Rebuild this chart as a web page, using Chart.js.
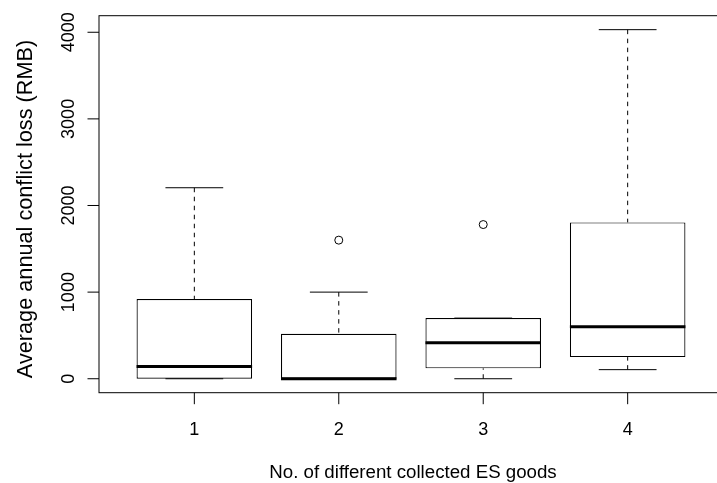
<!DOCTYPE html>
<html>
<head>
<meta charset="utf-8">
<title>Average annual conflict loss</title>
<script src="https://cdn.jsdelivr.net/npm/chart.js@4.4.1/dist/chart.umd.min.js"></script>
<style>
    html, body { margin: 0; padding: 0; background: #fff; overflow: hidden; }
    #lossChart { display: block; }
</style>
</head>
<body>
<canvas id="lossChart" width="728" height="483"></canvas>
<script>
//--- Data (RMB)
var groups = [1, 2, 3, 4];
var whiskerLow = [0, 0, 0, 105];
var quartile1 = [0, 0, 120, 250];
var medians = [140, 0, 415, 600];
var quartile3 = [920, 520, 700, 1805];
var whiskerHigh = [2205, 1000, 700, 4030];
var outlierGroup = [2, 3];
var outlierValue = [1600, 1780];
var yTicks = [0, 1000, 2000, 3000, 4000];
var xTickLabels = ['1', '2', '3', '4'];
var xTitle = 'No. of different collected ES goods';
var yTitle = 'Average annual conflict loss (RMB)';

var FONT = '"Liberation Sans", Arial, Helvetica, sans-serif';
var BOX_HALF = 0.4;    // boxwex 0.8
var CAP_HALF = 0.2;    // staple = half the box
var X_MIN = 0.34, X_MAX = 4.66;

//--- Build line data (null points break the segments)
function segments(list) {
    var out = [];
    list.forEach(function (s) {
        out.push({ x: s[0], y: s[1] });
        out.push({ x: s[2], y: s[3] });
        out.push({ x: s[2], y: null });
    });
    return out;
}

var medianSegs = [], whiskerSegs = [], capSegs = [];
groups.forEach(function (g, i) {
    medianSegs.push([g - BOX_HALF, medians[i], g + BOX_HALF, medians[i]]);
    // R draws whiskers from the staple towards the box
    whiskerSegs.push([g, whiskerHigh[i], g, quartile3[i]]);
    whiskerSegs.push([g, whiskerLow[i], g, quartile1[i]]);
    capSegs.push([g - CAP_HALF, whiskerHigh[i], g + CAP_HALF, whiskerHigh[i]]);
    capSegs.push([g - CAP_HALF, whiskerLow[i], g + CAP_HALF, whiskerLow[i]]);
});

var yMax = Math.max.apply(null, whiskerHigh);
var yPad = (yMax - 0) * 0.04;

//--- Frame, ticks and titles in the base-graphics look
var baseAxes = {
    id: 'baseAxes',
    afterDraw: function (chart) {
        var ctx = chart.ctx, a = chart.chartArea;
        var xs = chart.scales.x, ys = chart.scales.y;
        var tick = 11.5;
        ctx.save();
        ctx.strokeStyle = '#000';
        ctx.lineWidth = 1;
        ctx.strokeRect(a.left, a.top, a.right - a.left, a.bottom - a.top);

        // y axis
        ctx.beginPath();
        yTicks.forEach(function (v) {
            var y = ys.getPixelForValue(v);
            ctx.moveTo(a.left - tick, y);
            ctx.lineTo(a.left, y);
        });
        ctx.stroke();
        ctx.fillStyle = '#000';
        ctx.font = '18px ' + FONT;
        ctx.textAlign = 'center';
        ctx.textBaseline = 'alphabetic';
        yTicks.forEach(function (v) {
            var y = ys.getPixelForValue(v);
            ctx.save();
            ctx.translate(74, y);
            ctx.rotate(-Math.PI / 2);
            ctx.fillText(String(v), 0, 0);
            ctx.restore();
        });

        // x axis
        ctx.beginPath();
        groups.forEach(function (g) {
            var x = xs.getPixelForValue(g);
            ctx.moveTo(x, a.bottom);
            ctx.lineTo(x, a.bottom + tick);
        });
        ctx.stroke();
        groups.forEach(function (g, i) {
            ctx.fillText(xTickLabels[i], xs.getPixelForValue(g), 434.5);
        });

        // titles
        ctx.font = '18.7px ' + FONT;
        ctx.fillText(xTitle, (a.left + a.right) / 2 + 2, 478);
        ctx.save();
        ctx.font = '21.7px ' + FONT;
        ctx.translate(31.5, 209);
        ctx.rotate(-Math.PI / 2);
        ctx.fillText(yTitle, 0, 0);
        ctx.restore();
        ctx.restore();
    }
};

var ctx = document.getElementById('lossChart');
new Chart(ctx, {
    data: {
        datasets: [
            {
                type: 'bar',
                label: 'box',
                xAxisID: 'xb',
                grouped: false,
                data: groups.map(function (g, i) { return { x: g, y: [quartile1[i], quartile3[i]] }; }),
                backgroundColor: '#fff',
                borderColor: '#000',
                borderWidth: 1.2,
                borderSkipped: false,
                categoryPercentage: 2 * BOX_HALF,
                barPercentage: 1,
                order: 3
            },
            {
                type: 'line',
                label: 'whiskers',
                data: segments(whiskerSegs),
                borderColor: '#000',
                borderWidth: 1,
                borderDash: [4.5, 4.5],
                pointRadius: 0,
                spanGaps: false,
                order: 2
            },
            {
                type: 'line',
                label: 'caps',
                data: segments(capSegs),
                borderColor: '#000',
                borderWidth: 1,
                pointRadius: 0,
                spanGaps: false,
                order: 2
            },
            {
                type: 'line',
                label: 'median',
                data: segments(medianSegs),
                borderColor: '#000',
                borderWidth: 3,
                borderCapStyle: 'butt',
                pointRadius: 0,
                spanGaps: false,
                order: 1
            },
            {
                type: 'scatter',
                label: 'outliers',
                data: outlierGroup.map(function (g, i) { return { x: g, y: outlierValue[i] }; }),
                pointStyle: 'circle',
                pointRadius: 4,
                borderColor: '#000',
                borderWidth: 1,
                backgroundColor: 'rgba(0,0,0,0)',
                order: 0
            }
        ]
    },
    options: {
        responsive: false,
        animation: false,
        devicePixelRatio: 1,
        layout: { padding: { left: 99, top: 15.7, right: 1.2, bottom: 90.3 } },
        plugins: { legend: { display: false }, tooltip: { enabled: false } },
        scales: {
            x: { type: 'linear', display: false, offset: false, min: X_MIN, max: X_MAX },
            // bar axis: ticks only at the groups so the bar width follows the group spacing
            xb: {
                type: 'linear', axis: 'x', display: false, offset: false, min: X_MIN, max: X_MAX,
                ticks: { stepSize: 1, includeBounds: false }
            },
            y: { type: 'linear', display: false, min: -yPad, max: yMax + yPad }
        }
    },
    plugins: [baseAxes]
});
</script>
</body>
</html>
